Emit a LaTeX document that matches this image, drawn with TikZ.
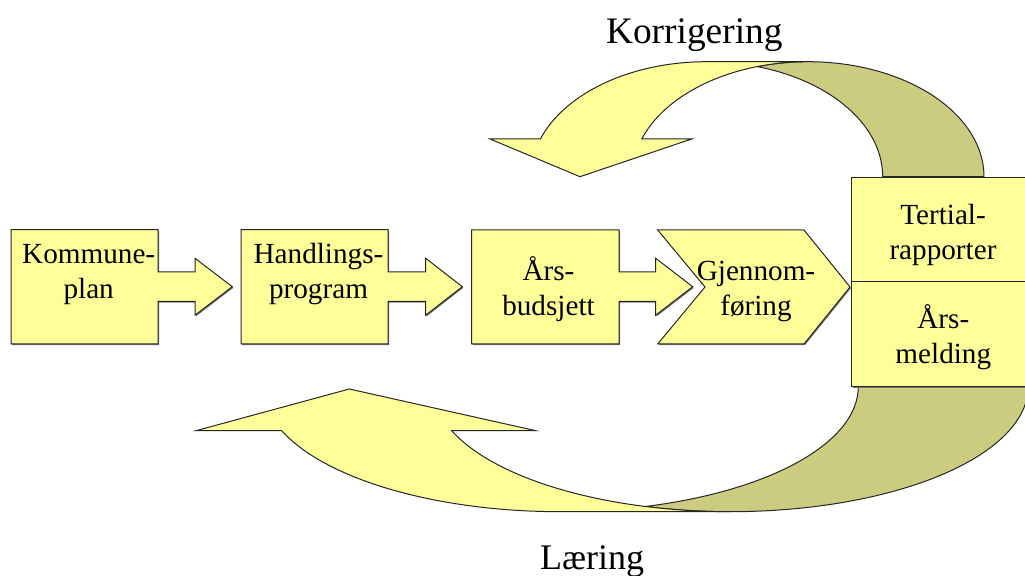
\documentclass[tikz,border=0pt]{standalone}
\usepackage{fontspec}
\setmainfont{Liberation Serif}
\usetikzlibrary{shadows}
\definecolor{gul}{RGB}{255,255,153}
\definecolor{oliven}{RGB}{204,204,128}

\begin{document}
\begin{tikzpicture}[x=0.5pt, y=-0.5pt,
    blokk/.style={draw=black!85, line width=0.5pt, fill=gul},
    bakside/.style={draw=black!85, line width=0.5pt, fill=oliven},
    skygge/.style={drop shadow={shadow xshift=0.5pt, shadow yshift=-0.6pt, fill=black!55, opacity=1}},
    tekst/.style={font=\fontsize{14.6}{17.5}\selectfont, align=center, anchor=base, inner sep=0pt},
    overskrift/.style={font=\fontsize{18.7}{22}\selectfont, anchor=base, inner sep=0pt}]
    \useasboundingbox (0,0) rectangle (1025,576);

    % Korrigering (top loop)
    \draw[bakside] (984,176.7) arc[start angle=0, end angle=-106.73, x radius=176, y radius=115]
        arc[start angle=-73.27, end angle=0, x radius=176, y radius=115] -- cycle;
    \draw[blokk] (540.4,139) arc[start angle=-160.86, end angle=-90, x radius=176, y radius=115]
        -- (808,61.7) arc[start angle=-90, end angle=-160.86, x radius=176, y radius=115]
        -- (691.7,139) -- (580,176.7) -- (490,139) -- cycle;

    % Laering (bottom loop)
    \draw[bakside] (1028.2,386.7) arc[start angle=0, end angle=106.58, x radius=297.8, y radius=125]
        arc[start angle=73.42, end angle=0, x radius=297.8, y radius=125] -- cycle;
    \draw[blokk] (281.7,430.7) arc[start angle=159.39, end angle=90, x radius=297.8, y radius=125]
        -- (730.4,511.7) arc[start angle=90, end angle=159.39, x radius=297.8, y radius=125]
        -- (535.7,430.7) -- (349.3,389) -- (196,430.7) -- cycle;

    % Planning boxes with arrows
    \draw[blokk, skygge] (11,229.7) -- (158,229.7) -- (158,272) -- (195,272) -- (195,258.3) -- (232.3,286.7)
        -- (195,315.2) -- (195,301.5) -- (158,301.5) -- (158,344) -- (11,344) -- cycle;
    \draw[blokk, skygge] (241,229.7) -- (388,229.7) -- (388,272) -- (425.7,272) -- (425.7,258.3) -- (462.3,286.7)
        -- (425.7,315.2) -- (425.7,301.5) -- (388,301.5) -- (388,344) -- (241,344) -- cycle;
    \draw[blokk, skygge] (471.7,230) -- (619,230) -- (619,272) -- (655.7,272) -- (655.7,258.3) -- (692.7,286.7)
        -- (655.7,315.2) -- (655.7,301.5) -- (619,301.5) -- (619,344) -- (471.7,344) -- cycle;

    % Gjennomfoering chevron
    \draw[blokk, skygge] (657.7,230) -- (804,230) -- (850,287) -- (804,344) -- (657.7,344) -- (705,287) -- cycle;

    % Reports
    \draw[blokk, skygge] (851.7,177.3) rectangle (1040,281.7);
    \draw[blokk, skygge] (851.7,281.7) rectangle (1040,386.7);

    % Texts (base = last line)
    \node[tekst] (kommuneplan) at (88.7,298.5) {Kommune-\\plan};
    \node[tekst] (handlingsprogram) at (318.5,298.5) {Handlings-\\program};
    \node[tekst] (aarsbudsjett) at (548.5,315.7) {Års-\\budsjett};
    \node[tekst] (gjennomforing) at (756,315.7) {Gjennom-\\føring};
    \node[tekst] (tertial) at (943,259.3) {Tertial-\\rapporter};
    \node[tekst] (aarsmelding) at (943.3,363.3) {Års-\\melding};
    \node[overskrift] (korrigering) at (694.3,43.3) {Korrigering};
    \node[overskrift, font=\fontsize{18}{22}\selectfont] (laering) at (592,570) {Læring};
\end{tikzpicture}
\end{document}
